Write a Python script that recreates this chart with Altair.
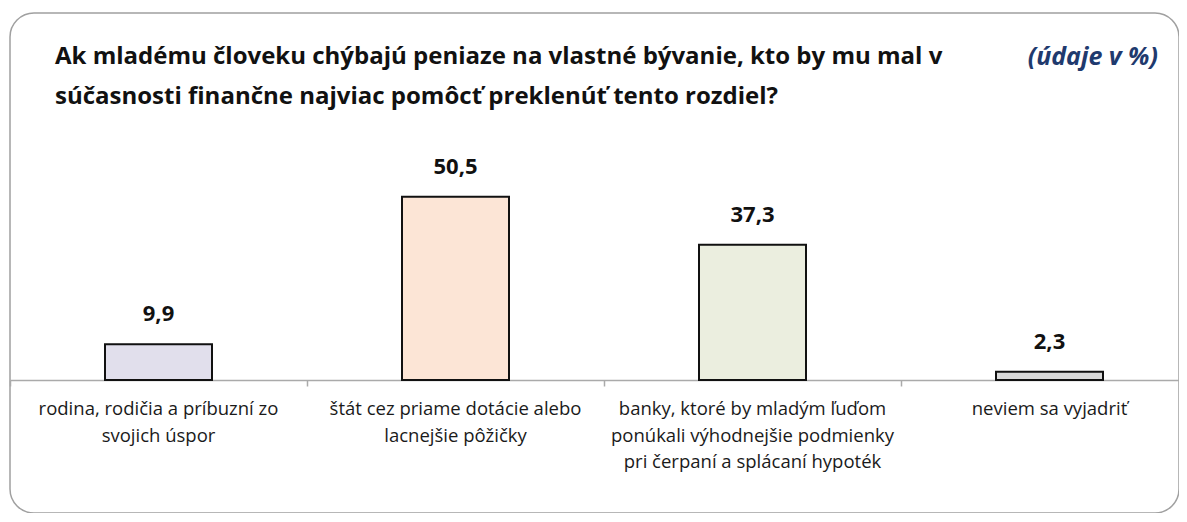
import altair as alt
import pandas as pd

categories = ["rodina", "stat", "banky", "neviem"]
values = [9.9, 50.5, 37.3, 2.3]
value_labels = ["9,9", "50,5", "37,3", "2,3"]
cat_labels = [
    ["rodina, rodičia a príbuzní zo", "svojich úspor"],
    ["štát cez priame dotácie alebo", "lacnejšie pôžičky"],
    ["banky, ktoré by mladým ľuďom", "ponúkali výhodnejšie podmienky", "pri čerpaní a splácaní hypoték"],
    ["neviem sa vyjadriť"],
]
fills = ["#E1DFEC", "#FCE5D6", "#EBEEDF", "#D9D9D9"]
title_lines = [
    "Ak mladému človeku chýbajú peniaze na vlastné bývanie, kto by mu mal v",
    "súčasnosti finančne najviac pomôcť preklenúť tento rozdiel?",
]
subtitle = "(údaje v %)"

df = pd.DataFrame({
    "cat": categories,
    "value": values,
    "vlabel": value_labels,
    "clabel": cat_labels,
    "fill": fills,
})

W, H = 1169, 500
FONT = "Open Sans"

xscale = alt.Scale(domain=categories, paddingInner=0, paddingOuter=0, range=[0, 1188])
xenc = alt.X("cat:N", sort=categories, scale=xscale,
             axis=alt.Axis(title=None, labels=False, bandPosition=0, tickSize=6,
                           tickColor="#AAAAAA", tickWidth=1.5,
                           domainColor="#AAAAAA", domainWidth=1.5,
                           offset=-133, grid=False))
yscale = alt.Scale(domain=[-36.6, 101.1], nice=False, zero=False)
yenc = alt.Y("value:Q", scale=yscale, axis=None)

base = alt.Chart(df)

bars = base.mark_bar(size=107, stroke="#111111", strokeWidth=2).encode(
    x=xenc,
    y=yenc,
    y2=alt.datum(0),
    fill=alt.Fill("fill:N", scale=None),
)

vals = base.mark_text(font=FONT, fontSize=22, fontWeight="bold", dy=-30,
                      color="#111111").encode(
    x=alt.X("cat:N", sort=categories, scale=xscale),
    y=alt.Y("value:Q", scale=yscale),
    text="vlabel:N",
)

clabels = base.mark_text(font=FONT, fontSize=18.5, baseline="middle", dy=29,
                         lineHeight=26.5, color="#1A1A1A").encode(
    x=alt.X("cat:N", sort=categories, scale=xscale),
    y=alt.YDatum(0),
    text="clabel",
)

tdf = pd.DataFrame({"t": [title_lines]})
title = alt.Chart(tdf).mark_text(font=FONT, fontSize=24, fontWeight="bold",
                                 align="left", baseline="middle", lineHeight=40,
                                 color="#111111").encode(
    x=alt.value(45), y=alt.value(44), text="t")

sdf = pd.DataFrame({"s": [subtitle]})
sub = alt.Chart(sdf).mark_text(font=FONT, fontSize=25, fontWeight="bold",
                               fontStyle="italic", align="right",
                               baseline="middle", color="#1F3A6E").encode(
    x=alt.value(1148), y=alt.value(44), text="s")

chart = alt.layer(bars, vals, clabels, title, sub).resolve_scale(
    y="shared"
).properties(
    width=W, height=H,
    padding={"left": 2, "top": 5, "right": 0, "bottom": 0},
    autosize=alt.AutoSizeParams(type="none"),
).configure_view(
    stroke="#A0A0A0", strokeWidth=1.5, cornerRadius=24
)

chart.save("out.html", embed_options={"renderer": "svg", "actions": False})
